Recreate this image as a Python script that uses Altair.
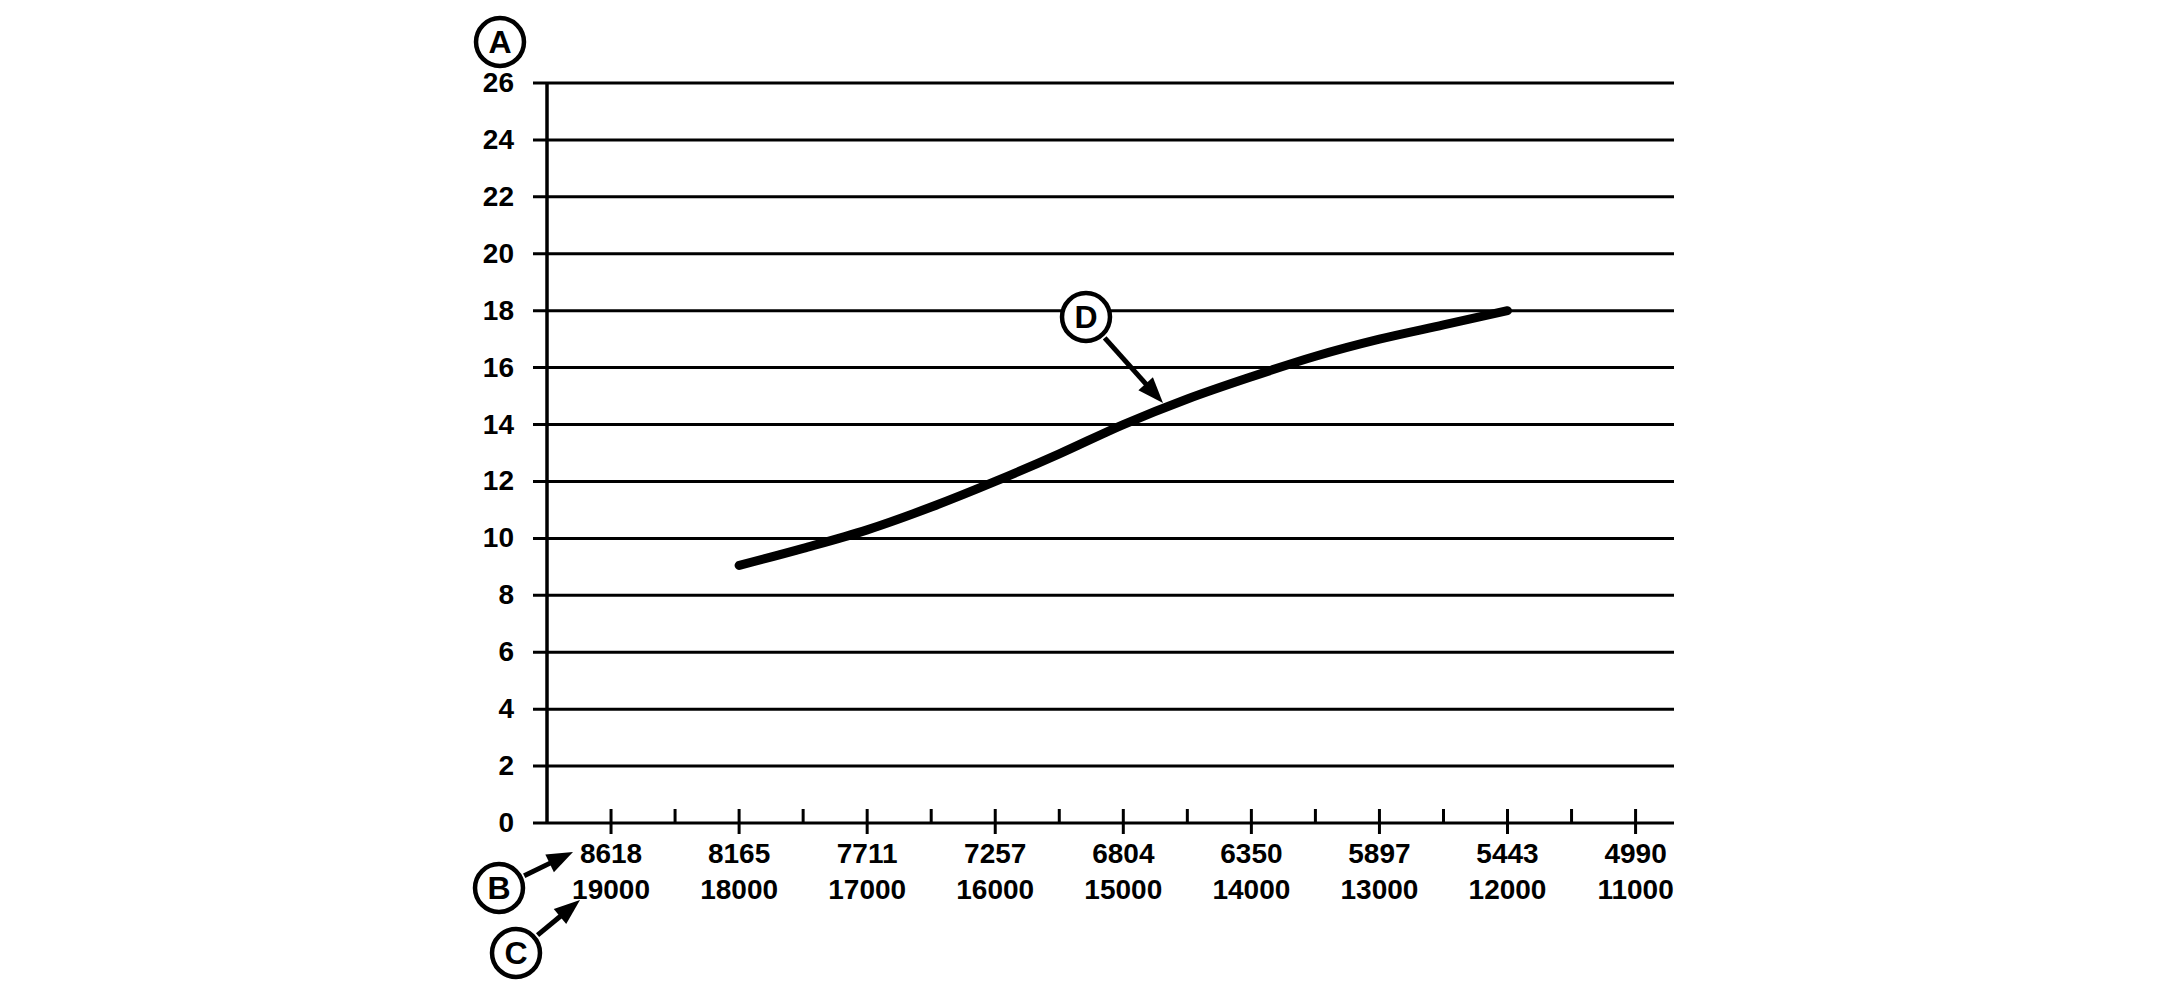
import altair as alt
import pandas as pd
import numpy as np

# ---- data ----
curve_lb = [18000, 17500, 17000, 16500, 16000, 15500, 15000, 14500, 14000, 13500, 13000, 12500, 12000]
curve_val = [9.05, 9.65, 10.3, 11.1, 12.0, 12.97, 14.0, 14.9, 15.68, 16.4, 17.0, 17.5, 18.0]

lb_ticks = [19000, 18000, 17000, 16000, 15000, 14000, 13000, 12000, 11000]
kg_labels = ["8618", "8165", "7711", "7257", "6804", "6350", "5897", "5443", "4990"]
lb_labels = ["19000", "18000", "17000", "16000", "15000", "14000", "13000", "12000", "11000"]
minor_ticks = [18500, 17500, 16500, 15500, 14500, 13500, 12500, 11500]
y_ticks = [0, 2, 4, 6, 8, 10, 12, 14, 16, 18, 20, 22, 24, 26]
callout_letters = ["A", "B", "C", "D"]

# ---- layout ----
W, H = 1127, 740
FONT = "Liberation Sans"
FS = 28
xs = alt.Scale(domain=[10700, 19500], reverse=True, nice=False, zero=False)
ys = alt.Scale(domain=[0, 26], nice=False, zero=False)

curve_df = pd.DataFrame({"lb": curve_lb, "v": curve_val})
ytick_df = pd.DataFrame({"v": y_ticks})
major_df = pd.DataFrame({"lb": lb_ticks, "kg": kg_labels, "lbs": lb_labels})
minor_df = pd.DataFrame({"lb": minor_ticks})

grid = alt.Chart(ytick_df).mark_rule(color="black", strokeWidth=3).encode(
    y=alt.Y("v:Q", scale=ys, axis=None), x=alt.value(-14), x2=alt.value(W))
ylab = alt.Chart(ytick_df).mark_text(align="right", baseline="middle", font=FONT,
                                     fontSize=FS, fontWeight="bold", color="black", dy=1).encode(
    y=alt.Y("v:Q", scale=ys, axis=None), x=alt.value(-33), text=alt.Text("v:Q"))
yaxis = alt.Chart(pd.DataFrame({"a": [0]})).mark_rule(color="black", strokeWidth=3.5).encode(
    x=alt.value(0), y=alt.value(0), y2=alt.value(H))

major = alt.Chart(major_df).mark_rule(color="black", strokeWidth=3).encode(
    x=alt.X("lb:Q", scale=xs, axis=None), y=alt.value(H - 14), y2=alt.value(H + 11))
minor = alt.Chart(minor_df).mark_rule(color="black", strokeWidth=3).encode(
    x=alt.X("lb:Q", scale=xs, axis=None), y=alt.value(H - 14), y2=alt.value(H))
row1 = alt.Chart(major_df).mark_text(align="center", baseline="alphabetic", font=FONT,
                                     fontSize=FS, fontWeight="bold", color="black").encode(
    x=alt.X("lb:Q", scale=xs, axis=None), y=alt.value(H + 40), text="kg:N")
row2 = alt.Chart(major_df).mark_text(align="center", baseline="alphabetic", font=FONT,
                                     fontSize=FS, fontWeight="bold", color="black").encode(
    x=alt.X("lb:Q", scale=xs, axis=None), y=alt.value(H + 76), text="lbs:N")

line = alt.Chart(curve_df).mark_line(color="black", strokeWidth=9, strokeCap="round",
                                     interpolate="monotone").encode(
    x=alt.X("lb:Q", scale=xs, axis=None), y=alt.Y("v:Q", scale=ys, axis=None))

# ---- callouts (pixel positions relative to the plot area) ----
centers = {"A": (-47, -41), "B": (-48, 805), "C": (-31, 870), "D": (539, 234)}
tips = {"B": (26, 769), "C": (33, 817), "D": (616, 320)}
R = 28
circ_df = pd.DataFrame({"t": callout_letters,
                        "px": [centers[k][0] for k in callout_letters],
                        "py": [centers[k][1] for k in callout_letters]})
rows = []
for k, (tx, ty) in tips.items():
    cx, cy = centers[k]
    d = np.array([tx - cx, ty - cy], dtype=float)
    u = d / np.linalg.norm(d)
    s = np.array([cx, cy]) + R * u
    e = np.array([tx, ty]) - 18 * u
    h = np.array([tx, ty]) - 13 * u
    ang = float(np.degrees(np.arctan2(u[0], -u[1]))) % 360
    rows.append({"sx": s[0], "sy": s[1], "ex": e[0], "ey": e[1], "hx": h[0], "hy": h[1], "ang": ang})
arr_df = pd.DataFrame(rows)

shafts = alt.Chart(arr_df).mark_rule(color="black", strokeWidth=5).encode(
    x=alt.X("sx:Q", scale=None), y=alt.Y("sy:Q", scale=None),
    x2="ex:Q", y2="ey:Q")
heads = alt.Chart(arr_df).mark_point(shape="M0,-1L0.75,1L-0.75,1Z", size=676, filled=True,
                                     color="black", opacity=1).encode(
    x=alt.X("hx:Q", scale=None), y=alt.Y("hy:Q", scale=None),
    angle=alt.Angle("ang:Q", scale=None))
circles = alt.Chart(circ_df).mark_point(shape="circle", size=2300, fill="white", fillOpacity=1,
                                        stroke="black", strokeWidth=4.5, opacity=1).encode(
    x=alt.X("px:Q", scale=None), y=alt.Y("py:Q", scale=None))
letters = alt.Chart(circ_df).mark_text(align="center", baseline="middle", font=FONT, fontSize=32,
                                       fontWeight="bold", color="black", dy=1).encode(
    x=alt.X("px:Q", scale=None), y=alt.Y("py:Q", scale=None), text="t:N")

chart = alt.layer(grid, ylab, yaxis, major, minor, row1, row2, line,
                  shafts, heads, circles, letters).properties(
    width=W, height=H,
    padding={"left": 539, "top": 75, "right": 470, "bottom": 160},
    autosize=alt.AutoSizeParams(type="none"),
    background="white",
).configure_view(stroke=None)

chart.save("out.html", embed_options={"renderer": "svg", "actions": False})
